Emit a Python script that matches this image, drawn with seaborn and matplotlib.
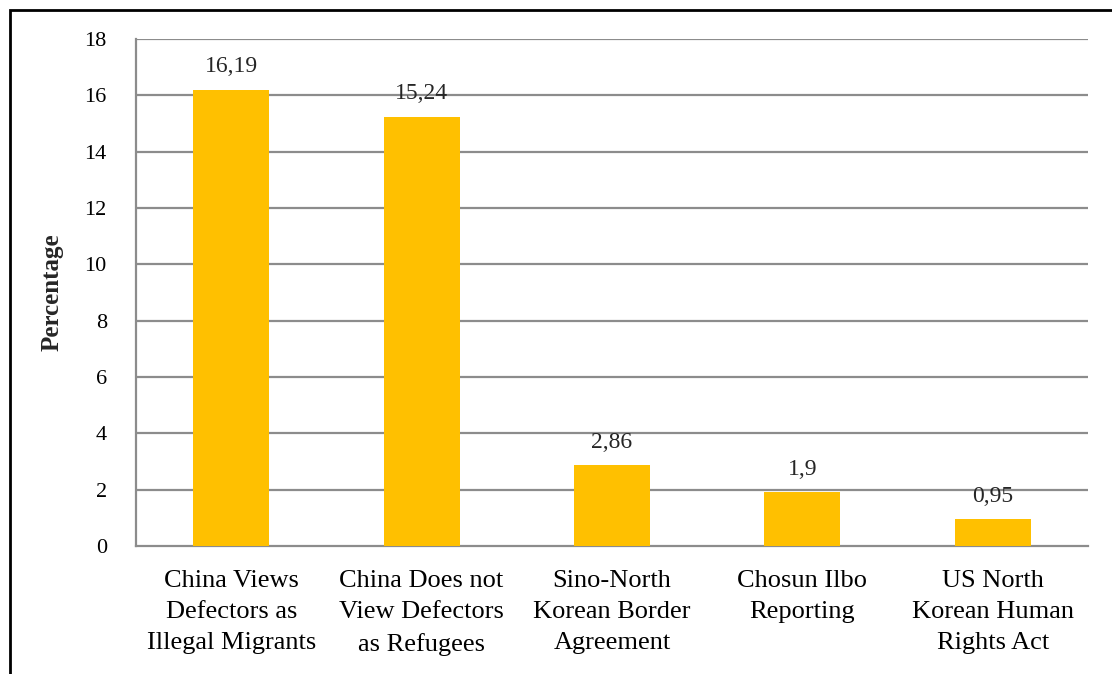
import matplotlib
matplotlib.use("Agg")
import matplotlib.pyplot as plt
from matplotlib.patches import Rectangle
import seaborn as sns
import pandas as pd

categories = [
    "China Views\nDefectors as\nIllegal Migrants",
    "China Does not\nView Defectors\nas Refugees",
    "Sino-North\nKorean Border\nAgreement",
    "Chosun Ilbo\nReporting",
    "US North\nKorean Human\nRights Act",
]
values = [16.19, 15.24, 2.86, 1.9, 0.95]
value_labels = ["16,19", "15,24", "2,86", "1,9", "0,95"]
y_ticks = [0, 2, 4, 6, 8, 10, 12, 14, 16, 18]

sns.set_theme(style="white")
plt.rcParams["font.family"] = ["Liberation Serif", "DejaVu Serif"]

W, H = 1112, 674
fig = plt.figure(figsize=(W / 100, H / 100), dpi=100)
ax = fig.add_axes([136 / W, 1 - 546 / H, (1088 - 136) / W, (546 - 39) / H])

df = pd.DataFrame({"cat": categories, "val": values})
sns.barplot(data=df, x="cat", y="val", color="#FFC000", saturation=1,
            width=0.4, linewidth=0, ax=ax, zorder=3)

grid_c = "#8C8C8C"
ax.set_ylim(0, 18)
ax.set_xlim(-0.5, len(categories) - 0.5)
ax.set_yticks(y_ticks)
ax.set_yticklabels([str(t) for t in y_ticks], fontsize=16)
for t in y_ticks[1:]:
    ax.axhline(t, color=grid_c, lw=1.6, zorder=1)

for s in ["top", "right"]:
    ax.spines[s].set_visible(False)
ax.spines["left"].set_color(grid_c)
ax.spines["left"].set_linewidth(1.6)
ax.spines["bottom"].set_color(grid_c)
ax.spines["bottom"].set_linewidth(1.6)

# category boundary ticks on the x axis
ax.set_xticks([i - 0.5 for i in range(len(categories) + 1)], minor=True)
ax.set_xticks(range(len(categories)))
ax.set_xticklabels(categories, fontsize=19, linespacing=1.55)
ax.tick_params(axis="x", which="major", length=0, pad=17)
ax.tick_params(axis="x", which="minor", length=8, width=1.6, color=grid_c, direction="out")
ax.tick_params(axis="y", length=8, width=1.6, color=grid_c, direction="out", pad=13)
ax.tick_params(axis="both", colors=grid_c, labelcolor="black")

for i, (v, lab) in enumerate(zip(values, value_labels)):
    ax.annotate(lab, (i, v), xytext=(0, 9), textcoords="offset points",
                ha="center", va="bottom", fontsize=17, zorder=4)

ax.set_xlabel("")
ax.set_ylabel("Percentage", fontsize=18, fontweight="bold", labelpad=15)

# frame around the figure
fig.patches.append(Rectangle((10 / W, -0.1), 1.2, 1 - 10 / H + 0.1,
                             transform=fig.transFigure, fill=False,
                             edgecolor="black", lw=2))

fig.savefig("out.png", dpi=100)
